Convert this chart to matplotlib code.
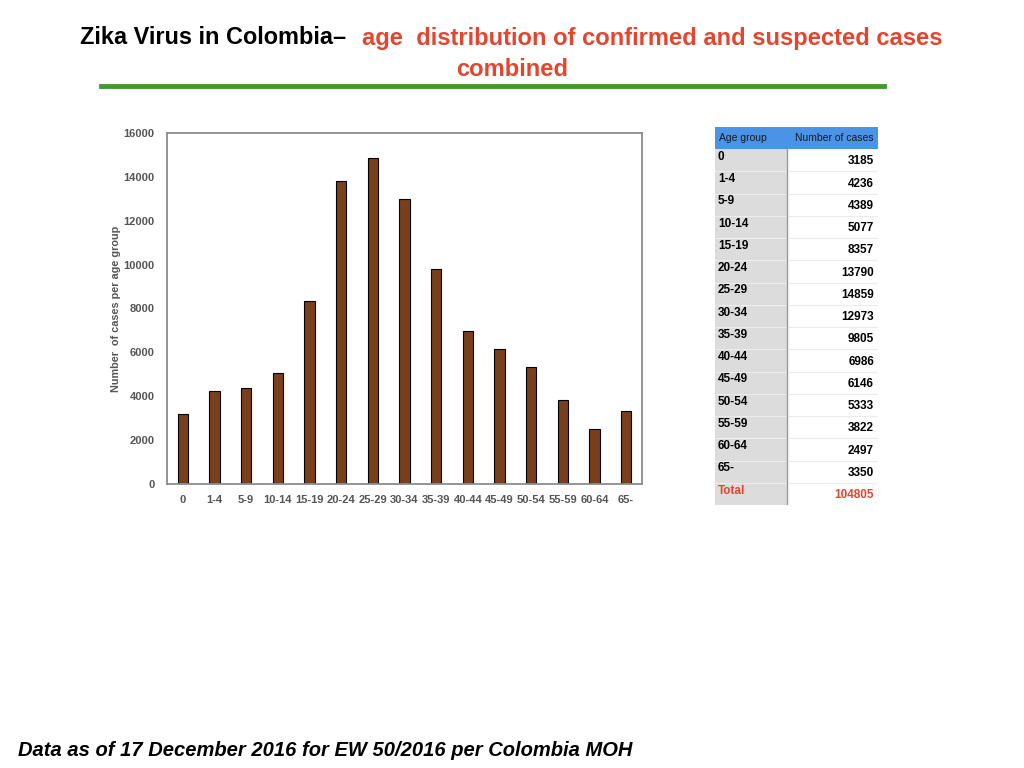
import matplotlib.pyplot as plt
from matplotlib.patches import Rectangle

plt.rcParams['font.family'] = ['Liberation Sans', 'DejaVu Sans']

age_groups = ['0', '1-4', '5-9', '10-14', '15-19', '20-24', '25-29', '30-34',
              '35-39', '40-44', '45-49', '50-54', '55-59', '60-64', '65-']
cases = [3185, 4236, 4389, 5077, 8357, 13790, 14859, 12973,
         9805, 6986, 6146, 5333, 3822, 2497, 3350]
total = 104805
y_ticks = [0, 2000, 4000, 6000, 8000, 10000, 12000, 14000, 16000]

red = '#E2462F'
brown = '#7A3F1C'
gray_txt = '#555555'

fig = plt.figure(figsize=(10.24, 7.68), dpi=100)
W, H = 1024, 768
renderer = fig.canvas.get_renderer()


def fit_width(t, px):
    # shrink/grow the font until the text is about px wide
    w = t.get_window_extent(renderer).width
    t.set_fontsize(t.get_fontsize() * px / w)


# title
t1 = fig.text(80 / W, 1 - 38 / H, 'Zika Virus in Colombia\u2013', fontsize=16,
              fontweight='bold', color='black', ha='left', va='center')
fit_width(t1, 265)
t2 = fig.text(362 / W, 1 - 38 / H, 'age  distribution of confirmed and suspected cases',
              fontsize=16, fontweight='bold', color=red, ha='left', va='center')
fit_width(t2, 581)
t3 = fig.text(512 / W, 1 - 70 / H, 'combined', fontsize=t2.get_fontsize(), fontweight='bold',
              color=red, ha='center', va='center')
fig.add_artist(plt.Line2D([101 / W, 884 / W], [1 - 86 / H, 1 - 86 / H],
                          color='#3F9A2F', linewidth=3.5))

# bar chart
ax = fig.add_axes([167 / W, 1 - 484 / H, 475 / W, 351 / H])
ax.bar(range(len(cases)), cases, width=0.33, color=brown,
       edgecolor='black', linewidth=0.8)
ax.set_xlim(-0.5, len(cases) - 0.5)
ax.set_ylim(0, 16000)
ax.set_yticks(y_ticks)
ax.set_xticks(range(len(cases)))
ax.set_xticklabels(age_groups)
ax.tick_params(axis='y', length=0, labelsize=8, labelcolor=gray_txt, pad=9)
ax.tick_params(axis='x', length=0, labelsize=8, labelcolor=gray_txt, pad=8)
for lab in ax.get_xticklabels() + ax.get_yticklabels():
    lab.set_fontweight('bold')
ax.set_ylabel('Number  of cases per age group', fontsize=7.8,
              fontweight='bold', color=gray_txt, labelpad=2)
for s in ax.spines.values():
    s.set_color('#8C8C8C')
    s.set_linewidth(1.3)

# table
tx = fig.add_axes([715 / W, 1 - 505 / H, 163 / W, 378 / H])
n_rows = len(age_groups) + 2
tx.set_xlim(0, 163)
tx.set_ylim(n_rows, 0)
tx.axis('off')
split = 72
tx.add_patch(Rectangle((0, 0), 163, 1, facecolor='#4A93E6', edgecolor='none'))
tx.add_patch(Rectangle((0, 1), split, n_rows - 1, facecolor='#DCDCDC', edgecolor='none'))
tx.text(4, 0.5, 'Age group', fontsize=7.5, color='#1A1A1A', va='center', ha='left')
tx.text(159, 0.5, 'Number of cases', fontsize=7.5, color='#1A1A1A', va='center', ha='right')
rows = list(zip(age_groups, cases)) + [('Total', total)]
for i, (g, c) in enumerate(rows):
    y = i + 1.5
    col = red if g == 'Total' else 'black'
    tx.text(3, y - 0.15, g, fontsize=8.5, fontweight='bold', color=col, va='center', ha='left')
    tx.text(159, y + 0.05, str(c), fontsize=8.5, fontweight='bold', color=col, va='center', ha='right')
    if i < len(rows) - 1:
        tx.plot([0, 163], [i + 2, i + 2], color='#EBEBEB', linewidth=0.8)
tx.plot([split, split], [1, n_rows], color='#9A9A9A', linewidth=1)

# footer
t4 = fig.text(18 / W, 1 - 750 / H, 'Data as of 17 December 2016 for EW 50/2016 per Colombia MOH',
              fontsize=13, fontweight='bold', fontstyle='italic', ha='left', va='center')
fit_width(t4, 610)

fig.savefig('out.png', dpi=100)
